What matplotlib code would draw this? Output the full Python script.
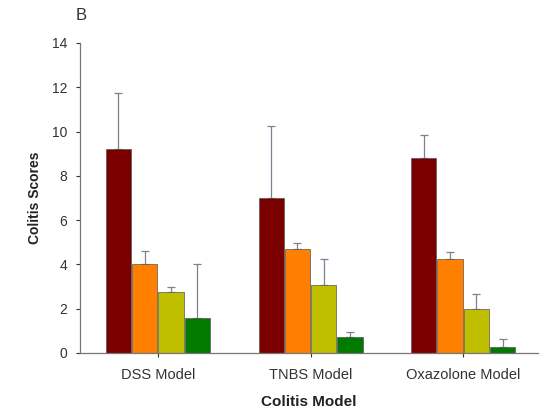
import numpy as np
import matplotlib
matplotlib.use("Agg")
import matplotlib.pyplot as plt

plt.rcParams['font.family'] = ['Liberation Sans', 'DejaVu Sans']

models = ["DSS Model", "TNBS Model", "Oxazolone Model"]
series_colors = ["#7a0000", "#ff7f00", "#bfbf00", "#007a00"]

# Mittelwerte je Gruppe (4 Behandlungen pro Modell)
means = [
    [9.2, 4.0, 2.75, 1.6],
    [7.0, 4.7, 3.05, 0.72],
    [8.8, 4.25, 2.0, 0.27],
]
# obere Fehlerbalken (SD)
errors = [
    [2.55, 0.6, 0.25, 2.4],
    [3.25, 0.25, 1.2, 0.23],
    [1.05, 0.32, 0.65, 0.36],
]

means = np.array(means)
errors = np.array(errors)

fig = plt.figure(figsize=(5.44, 4.09), dpi=100)
ax = fig.add_axes([0.147, 0.137, 0.842, 0.758])

x = np.arange(len(models))
width = 0.172
for i in range(means.shape[1]):
    pos = x + (i - 1.5) * width
    ax.bar(pos, means[:, i], width=width * 0.96, color=series_colors[i],
           edgecolor="#555555", linewidth=0.5, zorder=2)
    ax.errorbar(pos, means[:, i], yerr=[np.zeros(len(models)), errors[:, i]],
                fmt="none", ecolor="#7d8090", elinewidth=0.9, capsize=3,
                capthick=0.9, zorder=1)

ax.set_xlim(-0.51, 2.49)
ax.set_ylim(0, 14)
ax.set_yticks(range(0, 15, 2))
ax.set_xticks(x)
ax.set_xticklabels(models, fontsize=10.5, color="#333333")
ax.tick_params(axis="y", labelsize=10, colors="#333333", length=3, width=0.8,
               direction="out", pad=6)
ax.tick_params(axis="x", length=3, width=0.8, colors="#333333", pad=8)

for side in ["top", "right"]:
    ax.spines[side].set_visible(False)
for side in ["left", "bottom"]:
    ax.spines[side].set_color("#777777")
    ax.spines[side].set_linewidth(0.9)

ax.set_ylabel("Colitis Scores", fontsize=10, fontweight="bold", labelpad=7, color="#222222")
ax.set_xlabel("Colitis Model", fontsize=11, fontweight="bold", labelpad=9, color="#222222")
fig.text(0.149, 0.963, "B", fontsize=12, ha="center", va="center", color="#333333")

fig.savefig("out.png", dpi=100)
